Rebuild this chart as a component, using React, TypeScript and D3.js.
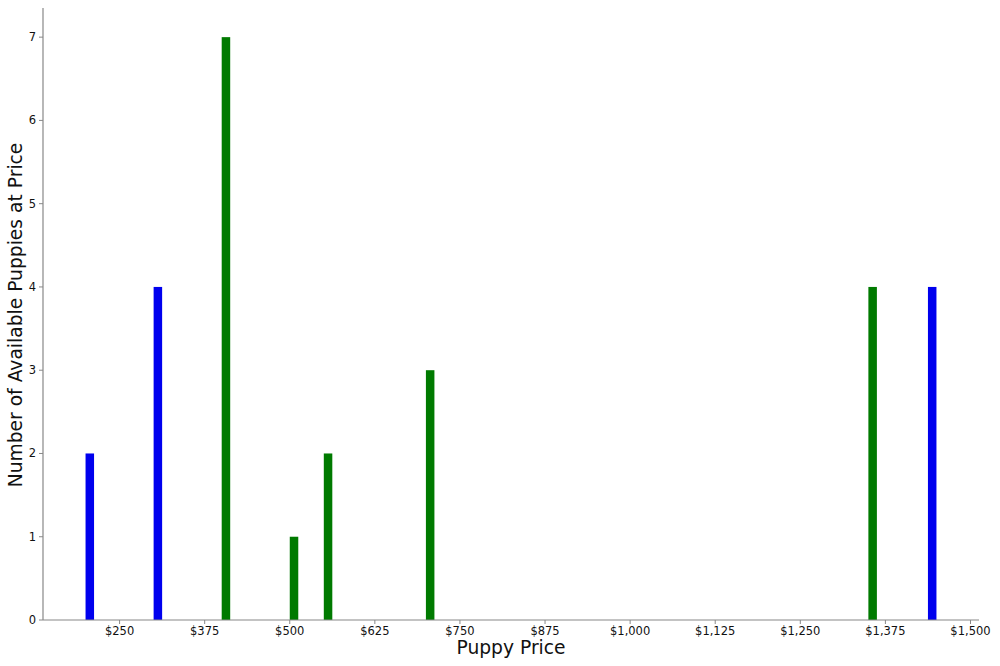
import React from "react";
import * as d3 from "d3";

// Data
const bluePrices = [200, 300, 1437.5];
const blueCounts = [2, 4, 4];
const greenPrices = [400, 500, 550, 700, 1350];
const greenCounts = [7, 1, 2, 3, 4];
const xTickValues = [250, 375, 500, 625, 750, 875, 1000, 1125, 1250, 1375, 1500];
const yTickValues = [0, 1, 2, 3, 4, 5, 6, 7];
const binWidth = 12.5;

const W = 1000;
const H = 666;
const left = 43;
const right = 979;
const top = 8;
const bottom = 620;

export default function App() {
  const x = d3.scaleLinear().domain([137.5, 1512.5]).range([left, right]);
  const y = d3.scaleLinear().domain([0, 7.35]).range([bottom, top]);
  const fmt = (v: number) => "$" + d3.format(",")(v);
  const font = "DejaVu Sans, sans-serif";

  const bars = (prices: number[], counts: number[], color: string, key: string) =>
    prices.map((p, i) => (
      <rect
        key={key + i}
        x={x(p)}
        y={y(counts[i])}
        width={x(p + binWidth) - x(p)}
        height={y(0) - y(counts[i])}
        fill={color}
      />
    ));

  return (
    <svg
      width={W}
      height={H}
      style={{ position: "absolute", left: 0, top: 0, background: "#fff" }}
      fontFamily={font}
    >
      {bars(bluePrices, blueCounts, "#0000ee", "b")}
      {bars(greenPrices, greenCounts, "#007a00", "g")}
      {/* spines */}
      <line x1={left} x2={left} y1={top} y2={bottom} stroke="#888" strokeWidth={1.2} />
      <line x1={left} x2={right} y1={bottom} y2={bottom} stroke="#888" strokeWidth={1.2} />
      {yTickValues.map((v) => (
        <g key={"y" + v}>
          <line x1={left - 4} x2={left} y1={y(v)} y2={y(v)} stroke="#888" />
          <text x={left - 7} y={y(v)} dy="0.35em" textAnchor="end" fontSize={11.5} fill="#111">
            {v}
          </text>
        </g>
      ))}
      {xTickValues.map((v) => (
        <g key={"x" + v}>
          <line x1={x(v)} x2={x(v)} y1={bottom} y2={bottom + 4} stroke="#888" />
          <text x={x(v)} y={bottom + 15} textAnchor="middle" fontSize={11.5} fill="#111">
            {fmt(v)}
          </text>
        </g>
      ))}
      <text x={(left + right) / 2} y={654} textAnchor="middle" fontSize={18.7} fill="#111">
        Puppy Price
      </text>
      <text
        transform={`translate(22,${(top + bottom) / 2 + 1}) rotate(-90)`}
        textAnchor="middle"
        fontSize={18.7}
        fill="#111"
      >
        Number of Available Puppies at Price
      </text>
    </svg>
  );
}
